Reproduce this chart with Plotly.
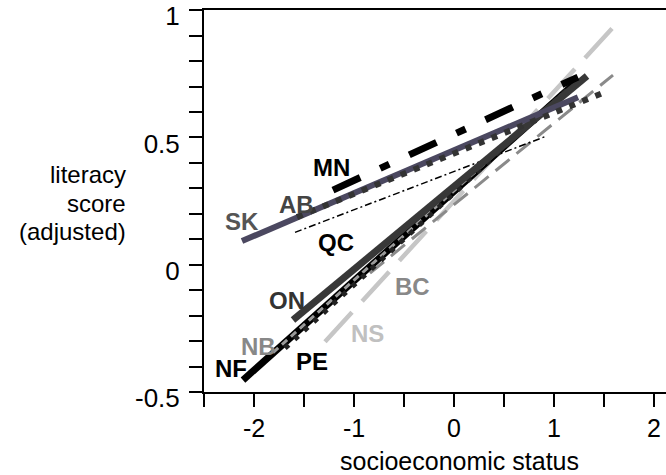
import plotly.graph_objects as go

# ---- data ----
provinces = ["NS", "BC", "QC", "NF", "NB", "PE", "ON", "SK", "AB", "MN"]
ses_low = [-1.29, -0.84, -1.59, -2.11, -1.81, -1.69, -1.61, -2.12, -1.57, -1.21]
ses_high = [1.61, 1.59, 0.91, 1.21, 1.10, 1.15, 1.33, 1.24, 1.51, 1.24]
score_low = [-0.303, -0.033, 0.127, -0.453, -0.345, -0.328, -0.217, 0.093, 0.187, 0.293]
score_high = [0.941, 0.745, 0.503, 0.713, 0.676, 0.695, 0.741, 0.658, 0.678, 0.737]

x_tickvals = [-2.5, -2, -1.5, -1, -0.5, 0, 0.5, 1, 1.5, 2]
x_ticktext = ["", "-2", "", "-1", "", "0", "", "1", "", "2"]
y_tickvals = [-0.5, -0.4, -0.3, -0.2, -0.1, 0, 0.1, 0.2, 0.3, 0.4, 0.5,
              0.6, 0.7, 0.8, 0.9, 1.0]
y_ticktext = ["-0.5", "", "", "", "", "0", "", "", "", "", "0.5",
              "", "", "", "", "1"]

# ---- styles ----
line_colors = ["#c6c6c6", "#8a8a8a", "#000000", "#000000", "#9a9a9a", "#222222",
               "#383838", "#4b4860", "#333333", "#000000"]
line_widths = [4.5, 3, 1.5, 7, 3, 5, 7, 6, 6, 7]
line_dashes = ["40px,15px", "18px,9px", "7px,3px,2px,3px", "solid", "7px,5px",
               "5px,8px", "solid", "solid", "6px,8px", "30px,22px,10px,22px"]

label_colors = {"NS": "#c0c0c0", "BC": "#888888", "QC": "#000000", "NF": "#000000",
                "NB": "#888888", "PE": "#000000", "ON": "#333333", "SK": "#555555",
                "AB": "#444444", "MN": "#000000"}
label_pos = {"MN": (-1.23, 0.38), "AB": (-1.58, 0.238), "SK": (-2.12, 0.171),
             "QC": (-1.18, 0.089), "ON": (-1.67, -0.142), "NB": (-1.96, -0.32),
             "NF": (-2.23, -0.406), "PE": (-1.42, -0.382), "NS": (-0.87, -0.272),
             "BC": (-0.42, -0.084)}

FONT = "Arial, Liberation Sans, sans-serif"
LABEL_FONT = "Arial, Liberation Sans, sans-serif"

fig = go.Figure()
for i, p in enumerate(provinces):
    fig.add_trace(go.Scatter(
        x=[ses_low[i], ses_high[i]], y=[score_low[i], score_high[i]],
        mode="lines", name=p, showlegend=False, hoverinfo="skip",
        line=dict(color=line_colors[i], width=line_widths[i], dash=line_dashes[i]),
    ))

annotations = []
for p in provinces:
    lx, ly = label_pos[p]
    annotations.append(dict(x=lx, y=ly, xref="x", yref="y", text="<b>" + p + "</b>",
                            showarrow=False, xanchor="center", yanchor="middle",
                            font=dict(family=LABEL_FONT, size=24, color=label_colors[p])))

for txt, yy in [("literacy", 0.354), ("score", 0.242), ("(adjusted)", 0.130)]:
    annotations.append(dict(x=0, y=yy, xref="paper", yref="y", text=txt, showarrow=False,
                            xanchor="right", yanchor="middle", xshift=-76,
                            font=dict(family=FONT, size=24, color="black")))

annotations.append(dict(x=0.055, y=0, xref="x", yref="paper", text="socioeconomic status",
                        showarrow=False, xanchor="center", yanchor="middle", yshift=-69,
                        font=dict(family=FONT, size=25, color="black")))

fig.update_layout(
    width=666, height=475,
    margin=dict(l=204, r=0, t=10, b=83, autoexpand=False),
    plot_bgcolor="white", paper_bgcolor="white",
    annotations=annotations,
    xaxis=dict(range=[-2.5, 2.12], tickmode="array", tickvals=x_tickvals, ticktext=x_ticktext,
               ticks="outside", ticklen=13, tickwidth=2, tickcolor="black",
               showline=True, linewidth=2, linecolor="black", mirror=True,
               showgrid=False, zeroline=False, ticklabelstandoff=0,
               ticklabeloverflow="allow", automargin=False,
               tickfont=dict(family=FONT, size=25, color="black")),
    yaxis=dict(range=[-0.5, 1.0005], tickmode="array", tickvals=y_tickvals, ticktext=y_ticktext,
               ticks="outside", ticklen=13, tickwidth=2, tickcolor="black",
               showline=True, linewidth=2, linecolor="black", mirror=False,
               showgrid=False, zeroline=False, ticklabelstandoff=4, ticklabelshift=6,
               ticklabeloverflow="allow", automargin=False,
               tickfont=dict(family=FONT, size=26, color="black")),
)

fig.write_html("out.html")
